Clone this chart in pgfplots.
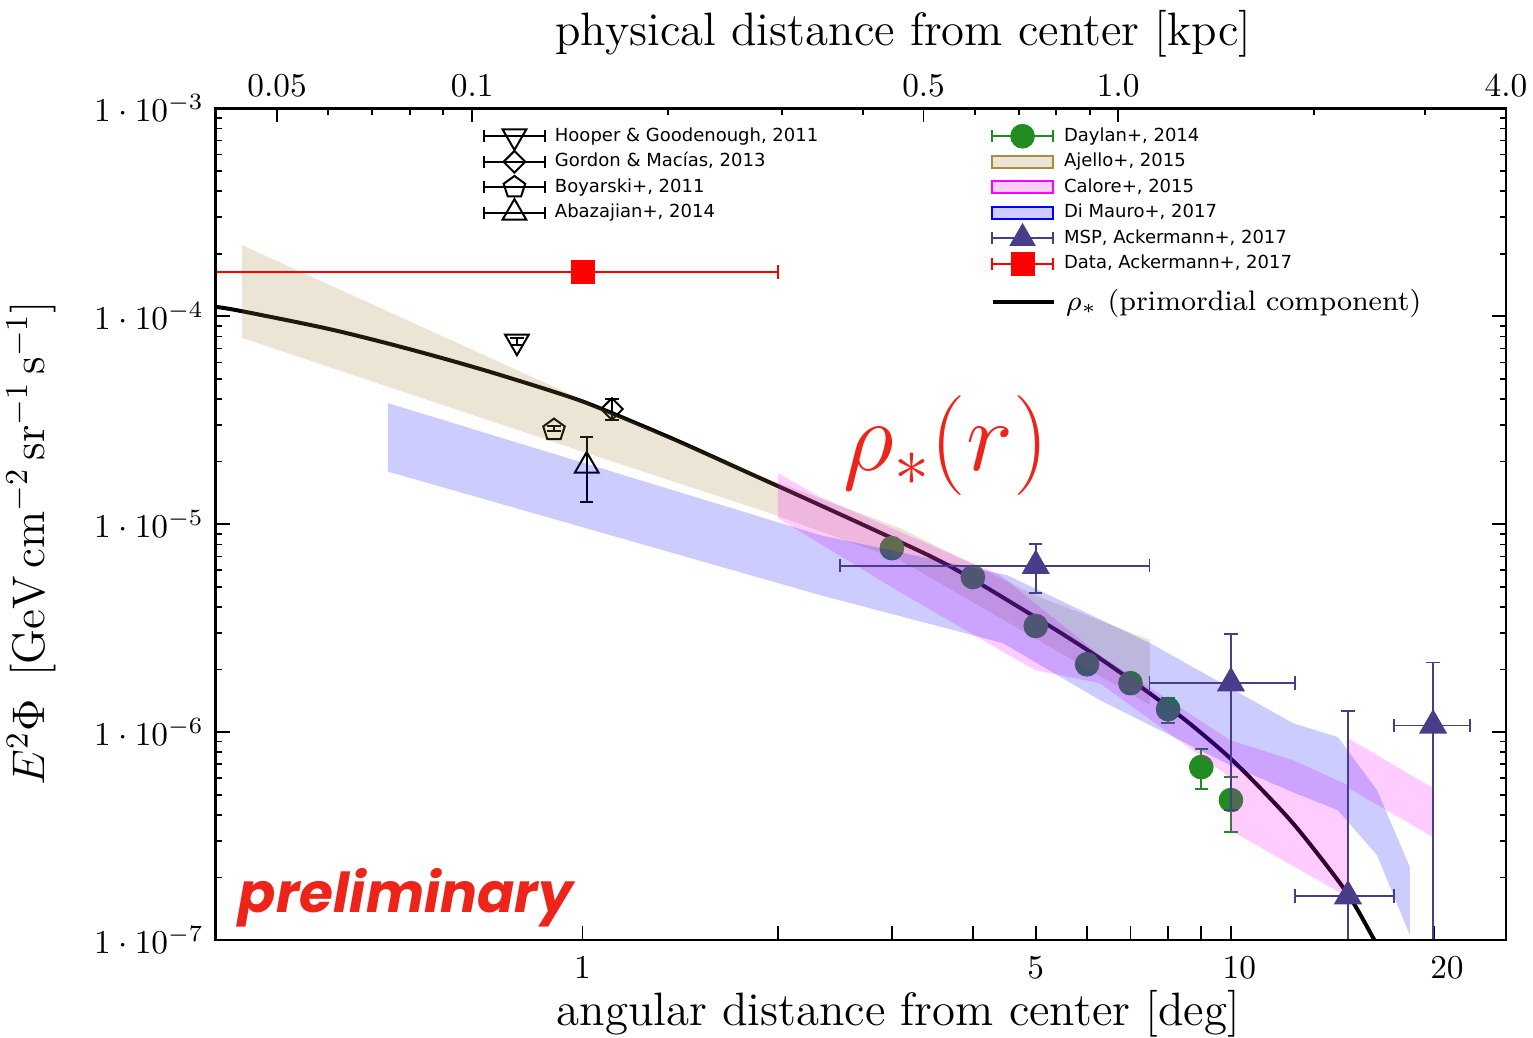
\RequirePackage{fix-cm}
\documentclass[border=0pt]{standalone}
\usepackage{fontspec}
\usepackage{pgfplots}
\pgfplotsset{compat=1.18}
\newfontfamily\legfont{DejaVu Sans}
\newfontfamily\prelimfont{Poppins}
\definecolor{mspcol}{RGB}{72,61,139}
\definecolor{daycol}{RGB}{34,139,34}
\definecolor{ajcol}{RGB}{160,125,50}
\definecolor{ajfill}{RGB}{236,229,214}
\definecolor{ajedge}{RGB}{170,140,60}
\definecolor{mag}{RGB}{255,0,255}
\definecolor{blu}{RGB}{0,0,255}
\definecolor{calfill}{RGB}{255,204,255}
\definecolor{dmfill}{RGB}{204,204,255}
\definecolor{redtxt}{RGB}{236,36,26}
\definecolor{red2}{RGB}{255,0,0}
\pgfplotsset{
 errleg/.style={legend image code/.code={
   \draw[line width=0.6pt,overlay] (0pt,0pt) -- (18.3pt,0pt) (0pt,-1.75pt) -- (0pt,1.75pt) (18.3pt,-1.75pt) -- (18.3pt,1.75pt);
   \draw[overlay] plot coordinates {(9.15pt,0pt)};
   \path[draw=none,fill=none] (0pt,-1.8pt) rectangle (18.3pt,1.8pt);
 }},
 bandleg/.style 2 args={legend image code/.code={
   \draw[fill=#1,draw=#2,line width=0.6pt] (0pt,-1.8pt) rectangle (18.3pt,1.8pt);
 }},
 legaxis/.style={at={(0,0)},anchor=south west,scale only axis,width=387.1pt,height=249.5pt,hide axis,xmin=0,xmax=1,ymin=0,ymax=1,legend cell align=left},
 yerr/.style={error bars/.cd, y dir=both, y explicit, error bar style={line width=0.6pt}, error mark options={rotate=90, mark size=2pt, line width=0.6pt}},
 xerr/.style={error bars/.cd, x dir=both, x explicit, error bar style={line width=0.5pt}, error mark options={rotate=90, mark size=2pt, line width=0.5pt}},
 xyerr/.style={error bars/.cd, x dir=both, x explicit, y dir=both, y explicit, error bar style={line width=0.5pt}, error mark options={rotate=90, mark size=2pt, line width=0.5pt}},
}
\begin{document}
\begin{tikzpicture}
\path[use as bounding box] (-64.7pt,-29.1pt) rectangle (395.2pt,282pt);
\begin{axis}[
 at={(0,0)}, anchor=south west, scale only axis, width=387.1pt, height=249.5pt,
 xmode=log, ymode=log, xmin=0.2718, xmax=26.56, ymin=1e-7, ymax=1e-3,
 clip marker paths=true,
 axis line style={line width=0.7pt},
 tick align=inside, xtick pos=left, ytick pos=both,
 major tick length=4.2pt, minor tick length=1.9pt,
 every tick/.style={black, line width=0.5pt},
 xtick={1,2,3,4,5,6,7,8,9,10,20.6},
 xticklabels={$1$,,,,$5$,,,,,\hspace{5pt}$10$,\hspace{7.5pt}$20$},
 xminorticks=false,
 ytick={1e-7,1e-6,1e-5,1e-4,1e-3},
 yticklabels={$1\cdot10^{-7}$,$1\cdot10^{-6}$,$1\cdot10^{-5}$,$1\cdot10^{-4}$,$1\cdot10^{-3}$},
 minor ytick={2e-7,3e-7,4e-7,5e-7,6e-7,7e-7,8e-7,9e-7,2e-6,3e-6,4e-6,5e-6,6e-6,7e-6,8e-6,9e-6,2e-5,3e-5,4e-5,5e-5,6e-5,7e-5,8e-5,9e-5,2e-4,3e-4,4e-4,5e-4,6e-4,7e-4,8e-4,9e-4},
 xticklabel style={yshift=-1.6pt},
 xlabel={angular distance from center [deg]},
 ylabel={$E^2\Phi\ \,[\mathrm{GeV\,cm^{-2}\,sr^{-1}\,s^{-1}}]$},
 xlabel style={font=\fontsize{14.05}{16}\selectfont, at={([yshift=-22.2pt]axis description cs:0.529,0)}, anchor=center},
 ylabel style={font=\fontsize{13.7}{16}\selectfont, at={([xshift=-55.4pt]axis description cs:0,0.477)}, anchor=center},
]
% primordial component curve
\addplot[black, line width=1.2pt, smooth] coordinates {
(0.2718,1.111e-4) (0.2983,1.058e-4) (0.4076,8.67e-5) (0.5352,7.01e-5) (0.7022,5.53e-5) (0.9213,4.25e-5) (1.0554,3.65e-5) (1.385,2.557e-5) (1.818,1.745e-5) (2.283,1.267e-5) (3.055,8.35e-6) (3.727,6.16e-6) (4.951,3.63e-6) (5.998,2.49e-6) (7.238,1.661e-6) (8.553,1.127e-6) (9.965,7.51e-7) (11.40,4.93e-7) (12.78,3.32e-7) (15.10,1.686e-7) (16.56,1.028e-7) (16.97,8.90e-8)};
% Hooper
\addplot[black, only marks, mark=triangle, mark size=4.1pt, mark options={rotate=180, line width=0.6pt}, yerr] coordinates {(0.7924,7.56e-5) +- (0,0.3e-5)};
% Gordon
\addplot[black, only marks, mark=square, mark size=2.3pt, mark options={rotate=45, line width=0.6pt}, yerr] coordinates {(1.110,3.58e-5) += (0,0.42e-5) -= (0,0.41e-5)};
% Boyarski
\addplot[black, only marks, mark=pentagon, mark size=3.4pt, mark options={line width=0.6pt}, yerr] coordinates {(0.9037,2.84e-5) += (0,0.13e-5) -= (0,0.04e-5)};
% Abazajian
\addplot[black, only marks, mark=triangle, mark size=4.1pt, mark options={line width=0.6pt}, yerr] coordinates {(1.015,1.91e-5) += (0,0.71e-5) -= (0,0.633e-5)};
% Daylan
\addplot[color=daycol, only marks, mark=*, mark size=3.5pt, yerr] coordinates {
(3,7.67e-6) +- (0,0.3e-6)
(4,5.57e-6) +- (0,0.25e-6)
(5,3.24e-6) +- (0,0.15e-6)
(6,2.12e-6) +- (0,0.1e-6)
(7,1.72e-6) +- (0,0.08e-6)
(8,1.29e-6) += (0,0.163e-6) -= (0,0.185e-6)
(9,6.79e-7) += (0,1.49e-7) -= (0,1.47e-7)
(10,4.71e-7) += (0,1.36e-7) -= (0,1.40e-7)
};
% Ajello band
\addplot[draw=none, fill=ajcol, fill opacity=0.2] coordinates {(0.2983,2.201e-4) (1.0554,3.67e-5) (1.919,1.666e-5) (3.088,9.58e-6) (4.986,4.56e-6) (7.503,2.77e-6) (7.503,1.349e-6) (4.986,2.83e-6) (3.088,6.72e-6) (1.919,1.147e-5) (1.0565,2.11e-5) (0.5012,4.58e-5) (0.2983,7.88e-5)} -- cycle;
% Calore band
\addplot[draw=none, fill=mag, fill opacity=0.2] coordinates {(2.002,1.761e-5) (2.324,1.350e-5) (4.404,5.69e-6) (6.281,2.346e-6) (9.965,9.15e-7) (12.46,7.33e-7) (15.15,5.56e-7) (15.15,1.608e-7) (9.965,3.38e-7) (9.965,6.07e-7) (6.281,1.720e-6) (4.986,1.987e-6) (3.088,4.71e-6) (2.002,1.070e-5)} -- cycle;
\addplot[draw=none, fill=mag, fill opacity=0.2] coordinates {(15.15,9.36e-7) (20.49,5.38e-7) (20.49,3.13e-7) (15.15,5.4e-7)} -- cycle;
% Di Mauro band
\addplot[draw=none, fill=blu, fill opacity=0.2] coordinates {(0.5012,3.82e-5) (2.324,8.86e-6) (4.514,5.69e-6) (7.503,2.68e-6) (12.46,1.105e-6) (14.62,9.46e-7) (16.80,5.26e-7) (18.88,2.24e-7) (18.88,1.055e-7) (16.80,2.56e-7) (14.62,4.21e-7) (12.46,5.14e-7) (9.965,6.94e-7) (6.281,1.425e-6) (4.450,2.68e-6) (2.324,4.56e-6) (0.5012,1.79e-5)} -- cycle;
% MSP
\addplot[color=mspcol, only marks, mark=triangle*, mark size=4.5pt, xyerr] coordinates {
(5,6.31e-6) += (2.49,1.71e-6) -= (2.505,1.65e-6)
(10,1.72e-6) += (2.55,1.24e-6) -= (2.51,1.299e-6)
(15.15,1.626e-7) += (2.69,1.1044e-6) -= (2.60,1.126e-7)
(20.5,1.077e-6) += (2.87,1.083e-6) -= (2.66,1.027e-6)
};
% Data
\addplot[color=red2, only marks, mark=square*, mark size=3.4pt, xerr] coordinates {(1.0,1.632e-4) += (1.0,0) -= (0.7282,0)};
\node[text=redtxt, font=\fontsize{30}{34}\selectfont] at (axis cs:3.636,2.4e-5) {$\rho_*(r)$};
\node[anchor=base west, text=redtxt, font=\prelimfont\bfseries\itshape\fontsize{16.5}{20}\selectfont] at (axis cs:0.2830,1.362e-7) {preliminary};
\end{axis}
% top axis
\begin{axis}[
 at={(0,0)}, anchor=south west, scale only axis, width=387.1pt, height=249.5pt,
 xmode=log, ymode=log, xmin=0.2718, xmax=26.56, ymin=1e-7, ymax=1e-3,
 axis line style={line width=0.7pt},
 tick align=inside, xtick pos=right, xticklabel pos=right, ytick=\empty,
 major tick length=4.2pt, minor tick length=1.9pt,
 every tick/.style={black, line width=0.5pt},
 xtick={0.338,0.676,3.357,6.70,26.56},
 xticklabels={$0.05$,$0.1$,$0.5$,$1.0$,$4.0$},
 minor xtick={0.405,0.4735,0.542,0.609,1.355,2.031,2.707,4.03,4.706,5.369,6.062,13.43,19.91},
 xlabel={physical distance from center [kpc]},
 xlabel style={font=\fontsize{14.05}{16}\selectfont, at={([yshift=22.4pt]axis description cs:0.533,1)}, anchor=center},
]
\addplot[draw=none, forget plot] coordinates {(1,1e-5)};
\end{axis}
% left legend
\begin{axis}[legaxis, legend style={draw=none, fill=none, at={(0.2079,0.9204)}, anchor=west, inner sep=0pt, outer sep=0pt, row sep=2.45pt, column sep=3pt, nodes={inner sep=0pt, font=\legfont\fontsize{5.4}{6.5}\selectfont, text height=4.1pt, text depth=1.1pt}}]
\addplot[draw=none, forget plot] coordinates {(0.5,0.5)};
\addlegendimage{errleg, color=black, mark=triangle, mark size=4.1pt, mark options={rotate=180, line width=0.6pt}}
\addlegendentry{Hooper \& Goodenough, 2011}
\addlegendimage{errleg, color=black, mark=square, mark size=2.3pt, mark options={rotate=45, line width=0.6pt}}
\addlegendentry{Gordon \& Macías, 2013}
\addlegendimage{errleg, color=black, mark=pentagon, mark size=3.4pt, mark options={line width=0.6pt}}
\addlegendentry{Boyarski+, 2011}
\addlegendimage{errleg, color=black, mark=triangle, mark size=4.1pt, mark options={line width=0.6pt}}
\addlegendentry{Abazajian+, 2014}
\end{axis}
% right legend
\begin{axis}[legaxis, legend style={draw=none, fill=none, at={(0.6009,0.8898)}, anchor=west, inner sep=0pt, outer sep=0pt, row sep=2.45pt, column sep=3pt, nodes={inner sep=0pt, font=\legfont\fontsize{5.4}{6.5}\selectfont, text height=4.1pt, text depth=1.1pt}}]
\addplot[draw=none, forget plot] coordinates {(0.5,0.5)};
\addlegendimage{errleg, color=daycol, mark=*, mark size=3.5pt}
\addlegendentry{Daylan+, 2014}
\addlegendimage{bandleg={ajfill}{ajedge}}
\addlegendentry{Ajello+, 2015}
\addlegendimage{bandleg={calfill}{mag}}
\addlegendentry{Calore+, 2015}
\addlegendimage{bandleg={dmfill}{blu}}
\addlegendentry{Di Mauro+, 2017}
\addlegendimage{errleg, color=mspcol, mark=triangle*, mark size=4.2pt}
\addlegendentry{MSP, Ackermann+, 2017}
\addlegendimage{errleg, color=red2, mark=square*, mark size=3.4pt}
\addlegendentry{Data, Ackermann+, 2017}
\end{axis}
% rho legend
\begin{axis}[legaxis, legend style={draw=none, fill=none, at={(0.6009,0.7671)}, anchor=west, inner sep=0pt, outer sep=0pt, column sep=3pt, nodes={inner sep=0pt, font=\fontsize{8.48}{10}\selectfont}}]
\addplot[draw=none, forget plot] coordinates {(0.5,0.5)};
\addlegendimage{legend image code/.code={\draw[black, line width=1.2pt] (0pt,0pt) -- (18.3pt,0pt);}}
\addlegendentry{$\rho_*$ (primordial component)}
\end{axis}
\end{tikzpicture}
\end{document}
